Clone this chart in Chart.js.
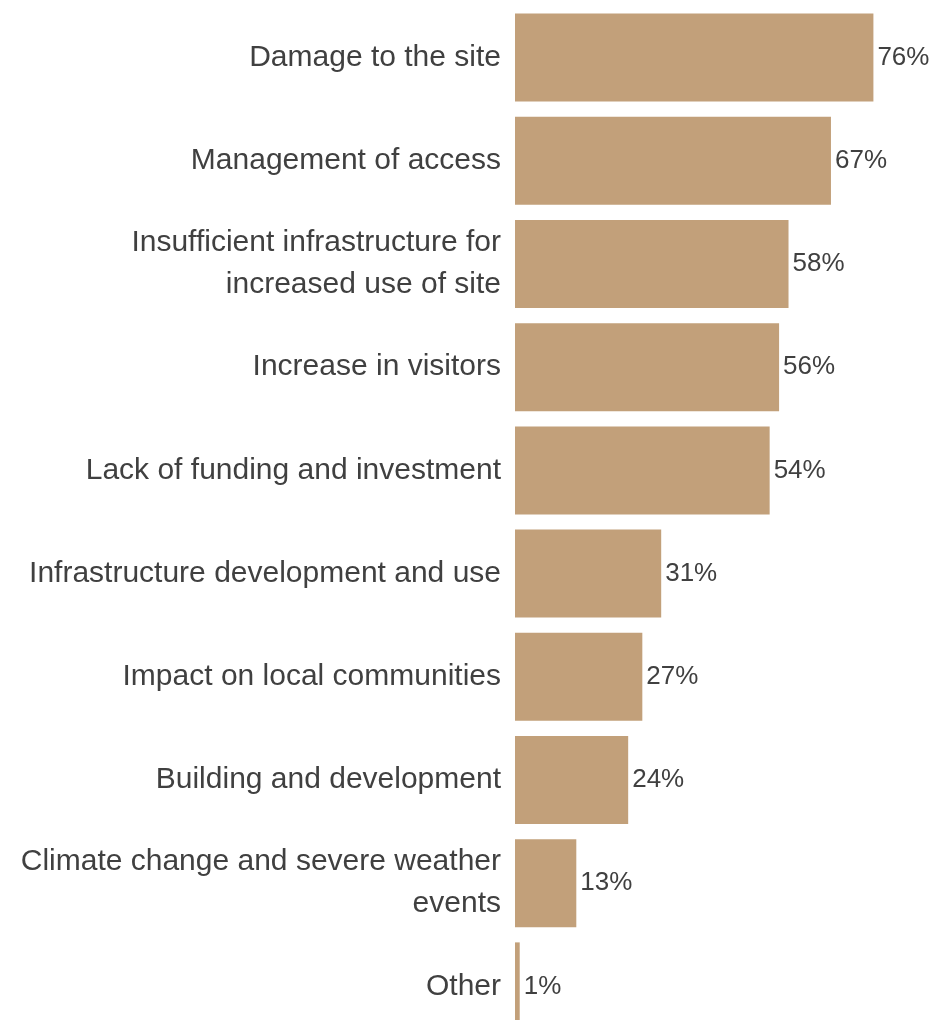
<!DOCTYPE html>
<html>
<head>
<meta charset="utf-8">
<script src="https://cdn.jsdelivr.net/npm/chart.js@4"></script>
<style>
  html, body { margin: 0; padding: 0; background: #fff; overflow: hidden; }
  #wrap { position: relative; width: 930px; height: 1045px; }
</style>
</head>
<body>
<div id="wrap"><canvas id="issuesChart"></canvas></div>
<script>
const categories = [
  "Damage to the site",
  "Management of access",
  ["Insufficient infrastructure for", "increased use of site"],
  "Increase in visitors",
  "Lack of funding and investment",
  "Infrastructure development and use",
  "Impact on local communities",
  "Building and development",
  ["Climate change and severe weather", "events"],
  "Other"
];
const shares = [76, 67, 58, 56, 54, 31, 27, 24, 13, 1];

// value labels at the end of each bar
const valueLabels = {
  id: "valueLabels",
  afterDatasetsDraw(chart) {
    const ctx = chart.ctx;
    const meta = chart.getDatasetMeta(0);
    ctx.save();
    ctx.font = "26px 'Liberation Sans', Arial, sans-serif";
    ctx.fillStyle = "#404040";
    ctx.textAlign = "left";
    ctx.textBaseline = "middle";
    meta.data.forEach((bar, i) => {
      ctx.fillText(shares[i] + "%", bar.x + 4, bar.y);
    });
    ctx.restore();
  }
};

const ctx = document.getElementById("issuesChart");
new Chart(ctx, {
  type: "bar",
  data: {
    labels: categories,
    datasets: [{
      data: shares,
      backgroundColor: "#C2A07A",
      borderWidth: 0,
      barPercentage: 0.853,
      categoryPercentage: 1
    }]
  },
  options: {
    indexAxis: "y",
    responsive: true,
    maintainAspectRatio: false,
    animation: false,
    layout: { padding: { top: 6, bottom: 7, left: 0, right: 0 } },
    plugins: {
      legend: { display: false },
      tooltip: { enabled: false }
    },
    scales: {
      x: { display: false, min: 0, max: 88 },
      y: {
        grid: { display: false, drawTicks: false },
        border: { display: false },
        afterFit(scale) {
          scale.width = 515;
          scale.paddingTop = 0;
          scale.paddingBottom = 0;
        },
        ticks: {
          color: "#404040",
          padding: 14,
          font: { family: "'Liberation Sans', Arial, sans-serif", size: 30, lineHeight: 1.4 }
        }
      }
    }
  },
  plugins: [valueLabels]
});
</script>
</body>
</html>
